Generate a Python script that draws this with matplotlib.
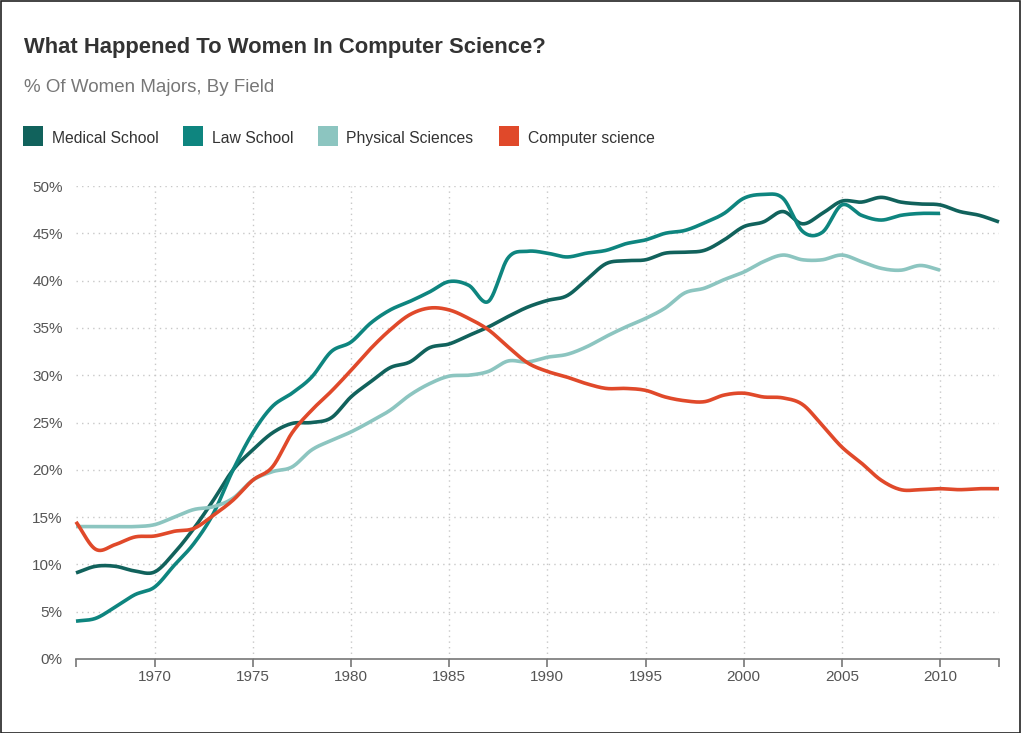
import numpy as np
import matplotlib
matplotlib.use("Agg")
import matplotlib.pyplot as plt
from matplotlib.patches import Rectangle

plt.rcParams['font.family'] = ['Liberation Sans', 'DejaVu Sans']

years_long = list(range(1966, 2014))
years_short = list(range(1966, 2011))

medical = [9.1, 9.8, 9.8, 9.3, 9.2, 11.2, 13.8, 16.8, 20.0, 22.1, 23.9, 24.9, 25.0, 25.5,
           27.7, 29.3, 30.8, 31.4, 32.9, 33.3, 34.2, 35.1, 36.2, 37.2, 37.9, 38.4, 40.1,
           41.8, 42.1, 42.2, 42.9, 43.0, 43.2, 44.3, 45.7, 46.2, 47.3, 46.0, 47.1, 48.4,
           48.3, 48.8, 48.3, 48.1, 48.0, 47.3, 46.9, 46.2]
law = [4.0, 4.3, 5.5, 6.8, 7.6, 9.9, 12.2, 15.4, 20.0, 23.9, 26.7, 28.1, 29.8, 32.5,
       33.5, 35.5, 36.9, 37.8, 38.8, 39.9, 39.5, 37.8, 42.4, 43.1, 42.9, 42.5, 42.9,
       43.2, 43.9, 44.3, 45.0, 45.3, 46.1, 47.1, 48.7, 49.1, 48.7, 45.2, 45.1, 48.0,
       46.9, 46.4, 46.9, 47.1, 47.1]
physical = [14.0, 14.0, 14.0, 14.0, 14.2, 15.0, 15.8, 16.1, 17.0, 18.9, 19.8, 20.3, 22.1,
            23.1, 24.0, 25.1, 26.3, 27.9, 29.1, 29.9, 30.0, 30.4, 31.5, 31.4, 31.9, 32.2,
            33.0, 34.1, 35.1, 36.0, 37.1, 38.7, 39.2, 40.1, 40.9, 42.0, 42.7, 42.2, 42.2,
            42.7, 42.0, 41.3, 41.1, 41.6, 41.1]
computer = [14.5, 11.6, 12.1, 12.9, 13.0, 13.5, 13.8, 15.2, 16.8, 18.9, 20.3, 23.9, 26.3,
            28.3, 30.5, 32.8, 34.8, 36.4, 37.1, 36.9, 36.0, 34.8, 33.0, 31.3, 30.4, 29.8,
            29.1, 28.6, 28.6, 28.4, 27.7, 27.3, 27.2, 27.9, 28.1, 27.7, 27.6, 26.9, 24.7,
            22.4, 20.7, 18.9, 17.9, 17.9, 18.0, 17.9, 18.0, 18.0]

series_names = ["Medical School", "Law School", "Physical Sciences", "Computer science"]
series_colors = ["#11625c", "#0e857f", "#8cc5c0", "#e0492a"]
y_ticks = [0, 5, 10, 15, 20, 25, 30, 35, 40, 45, 50]
x_ticks = [1970, 1975, 1980, 1985, 1990, 1995, 2000, 2005, 2010]


def smooth_curve(x, y, n=24):
    """Catmull-Rom rendering of a polyline (like d3.curveCatmullRom / cardinal)."""
    x = np.asarray(x, float)
    y = np.asarray(y, float)
    px = np.concatenate([[2 * x[0] - x[1]], x, [2 * x[-1] - x[-2]]])
    py = np.concatenate([[2 * y[0] - y[1]], y, [2 * y[-1] - y[-2]]])
    xs, ys = [], []
    t = np.linspace(0, 1, n, endpoint=False)
    for i in range(1, len(px) - 2):
        p0, p1, p2, p3 = py[i - 1], py[i], py[i + 1], py[i + 2]
        m1 = (p2 - p0) / 2
        m2 = (p3 - p1) / 2
        h00 = 2 * t**3 - 3 * t**2 + 1
        h10 = t**3 - 2 * t**2 + t
        h01 = -2 * t**3 + 3 * t**2
        h11 = t**3 - t**2
        xs.append(px[i] + t * (px[i + 1] - px[i]))
        ys.append(h00 * p1 + h10 * m1 + h01 * p2 + h11 * m2)
    xs.append([x[-1]])
    ys.append([y[-1]])
    return np.concatenate(xs), np.concatenate(ys)


W, H = 1021, 733
fig = plt.figure(figsize=(W / 100, H / 100), dpi=100)
fig.patch.set_facecolor("white")

# outer frame
fig.add_artist(Rectangle((0.5 / W, 0.5 / H), 1 - 1.5 / W, 1 - 1.5 / H, transform=fig.transFigure,
                         fill=False, edgecolor="#222222", linewidth=1.2))

ax = fig.add_axes([76 / W, (H - 659) / H, 923 / W, 473 / H])
ax.set_xlim(1966, 2013)
ax.set_ylim(0, 50)

for s, (xs_, vals) in enumerate([(years_long, medical), (years_short, law),
                                 (years_short, physical), (years_long, computer)]):
    cx, cy = smooth_curve(xs_, vals)
    ax.plot(cx, cy, color=series_colors[s], linewidth=2.6, solid_capstyle="butt",
            solid_joinstyle="round", zorder=3 + s, clip_on=False)

# grid
for yv in y_ticks[1:]:
    ax.axhline(yv, color="#c8c8c8", linewidth=1.0, linestyle=(0, (1, 3)), zorder=1)
for xv in x_ticks:
    ax.axvline(xv, color="#c8c8c8", linewidth=1.0, linestyle=(0, (1, 3)), zorder=1)

for sp in ["top", "right", "left"]:
    ax.spines[sp].set_visible(False)
ax.spines["bottom"].set_color("#777777")
ax.spines["bottom"].set_linewidth(1.2)

ax.set_yticks(y_ticks)
ax.set_yticklabels([f"{v}%" for v in y_ticks])
ax.tick_params(axis="y", length=0, pad=9.5, labelsize=11, labelcolor="#555555")

ax.set_xticks([1966] + x_ticks + [2013])
ax.set_xticklabels([""] + [str(v) for v in x_ticks] + [""])
ax.tick_params(axis="x", length=5.5, width=1.2, color="#777777", direction="out",
               pad=2.5, labelsize=11, labelcolor="#555555")

# titles
fig.text(24 / W, 1 - 53.5 / H, "What Happened To Women In Computer Science?", fontsize=15.8,
         fontweight="bold", color="#333333", va="baseline", ha="left")
fig.text(24 / W, 1 - 91.5 / H, "% Of Women Majors, By Field", fontsize=13.5,
         color="#777777", va="baseline", ha="left")

# legend
leg_x = [23, 183, 318, 499]
for i, name in enumerate(series_names):
    fig.add_artist(Rectangle((leg_x[i] / W, 1 - 146 / H), 20 / W, 20 / H,
                             transform=fig.transFigure, facecolor=series_colors[i],
                             edgecolor="none"))
    fig.text((leg_x[i] + 28.5) / W, 1 - 142.7 / H, name, fontsize=11.3, color="#333333",
             va="baseline", ha="left")

fig.savefig("out.png", dpi=100, facecolor="white")
